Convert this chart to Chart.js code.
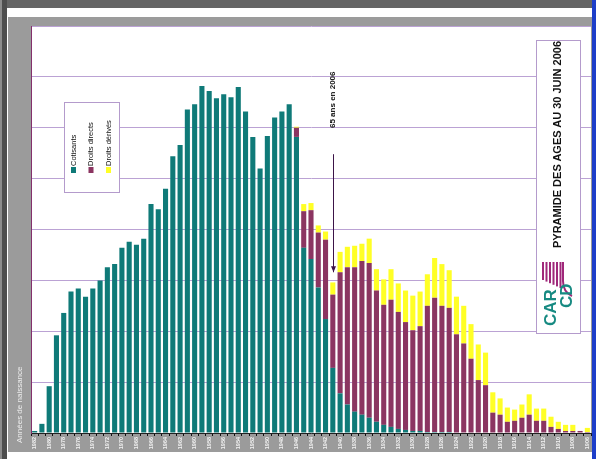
<!DOCTYPE html>
<html>
<head>
<meta charset="utf-8">
<script src="https://cdn.jsdelivr.net/npm/chart.js@4.4.1/dist/chart.umd.min.js"></script>
<style>
  body { margin: 0; width: 596px; height: 459px; position: relative; overflow: hidden; background: #fff; }
  canvas { position: absolute; left: 0; top: 0; }
  .vtxt { position: absolute; white-space: nowrap; transform-origin: 0 0; transform: rotate(-90deg); font-family: "Liberation Sans", Arial, sans-serif; }
</style>
</head>
<body>
<canvas id="pyramide" width="596" height="459"></canvas>
<script>
// Birth years, oldest on the right
const years = [1982, 1981, 1980, 1979, 1978, 1977, 1976, 1975, 1974, 1973,
    1972, 1971, 1970, 1969, 1968, 1967, 1966, 1965, 1964, 1963,
    1962, 1961, 1960, 1959, 1958, 1957, 1956, 1955, 1954, 1953,
    1952, 1951, 1950, 1949, 1948, 1947, 1946, 1945, 1944, 1943,
    1942, 1941, 1940, 1939, 1938, 1937, 1936, 1935, 1934, 1933,
    1932, 1931, 1930, 1929, 1928, 1927, 1926, 1925, 1924, 1923,
    1922, 1921, 1920, 1919, 1918, 1917, 1916, 1915, 1914, 1913,
    1912, 1911, 1910, 1909, 1908, 1907, 1906];

const cotisants = [2, 9, 46, 96, 118, 139, 142, 134, 142, 150,
    163, 166, 182, 188, 185, 191, 225, 220, 240, 272,
    283, 318, 323, 341, 336, 329, 333, 330, 340, 316,
    291, 260, 292, 310, 316, 323, 291, 182, 171, 143,
    112, 64, 39, 28, 21, 18, 15, 11, 8, 6,
    4, 3, 2, 2, 1, 1, 1, 1, 0, 0,
    0, 0, 0, 0, 0, 0, 0, 0, 0, 0,
    0, 0, 0, 0, 0, 0, 0];

const droitsDirects = [0, 0, 0, 0, 0, 0, 0, 0, 0, 0,
    0, 0, 0, 0, 0, 0, 0, 0, 0, 0,
    0, 0, 0, 0, 0, 0, 0, 0, 0, 0,
    0, 0, 0, 0, 0, 0, 9, 36, 48, 54,
    78, 72, 119, 135, 142, 151, 152, 129, 118, 125,
    115, 106, 99, 103, 124, 132, 124, 122, 97, 88,
    73, 52, 47, 20, 18, 11, 12, 15, 18, 12,
    12, 6, 4, 2, 2, 2, 1];

const droitsDerives = [0, 0, 0, 0, 0, 0, 0, 0, 0, 0,
    0, 0, 0, 0, 0, 0, 0, 0, 0, 0,
    0, 0, 0, 0, 0, 0, 0, 0, 0, 0,
    0, 0, 0, 0, 0, 0, 1, 7, 7, 7,
    8, 12, 20, 20, 21, 17, 24, 21, 25, 30,
    28, 31, 34, 34, 31, 39, 41, 37, 37, 37,
    34, 35, 32, 20, 16, 14, 11, 13, 20, 12,
    12, 10, 7, 6, 6, 0, 4];

const seriesNames = ['Cotisants', 'Droits directs', 'Droits dérivés'];
const seriesColors = ['#0f7a78', '#8b3561', '#ffff26'];
const markerYear = 1941;

// rotated text, reading bottom to top, bottom end at (cx, bottomY)
const vtext = (text, cx, bottomY, size, weight, color) => {
    const d = document.createElement('div');
    d.className = 'vtxt';
    d.textContent = text;
    d.style.left = (cx - size / 2) + 'px';
    d.style.top = bottomY + 'px';
    d.style.fontSize = size + 'px';
    d.style.lineHeight = size + 'px';
    d.style.fontWeight = weight;
    d.style.color = color;
    document.body.appendChild(d);
    return d;
};

// gray frame around the plot
const framePlugin = {
    id: 'frame',
    beforeDraw(chart) {
        const { ctx, chartArea: a } = chart;
        ctx.save();
        ctx.fillStyle = '#fff';
        ctx.fillRect(0, 0, 596, 459);
        ctx.fillStyle = '#9b9b9b';
        ctx.fillRect(8, 17, 584, 435);
        ctx.fillStyle = '#fff';
        ctx.fillRect(a.left, a.top, a.right - a.left, a.bottom - a.top);
        ctx.fillStyle = '#656565';
        ctx.fillRect(0, 0, 592, 8);
        ctx.fillStyle = '#4e4e4e';
        ctx.fillRect(2, 0, 5, 459);
        ctx.fillStyle = '#8c8c8c';
        ctx.fillRect(0, 0, 2, 459);
        ctx.fillStyle = '#1d3ec9';
        ctx.fillRect(592, 0, 4, 459);
        ctx.restore();
    }
};

// legend box, title box, logo stripes, arrow
const extrasPlugin = {
    id: 'extras',
    afterDraw(chart) {
        const { ctx } = chart;
        const x = chart.scales.x, y = chart.scales.y;
        ctx.save();
        ctx.strokeStyle = '#b49bcc';
        ctx.lineWidth = 1;
        ctx.fillStyle = '#fff';
        ctx.fillRect(64, 102, 55, 90);
        ctx.strokeRect(64.5, 102.5, 55, 90);
        ctx.fillRect(536, 40, 44, 293);
        ctx.strokeRect(536.5, 40.5, 44, 293);

        // legend squares
        [71, 88.5, 106].forEach((lx, i) => {
            ctx.fillStyle = seriesColors[i];
            ctx.fillRect(lx, 167, 5, 6);
        });

        // logo stripes
        ctx.fillStyle = '#a0287a';
        [542, 545.5, 549, 552.5, 556, 559.5].forEach((sx, i) => {
            ctx.fillRect(sx, 262, 2, 18 + i * 1.6);
        });
        ctx.strokeStyle = '#a0287a';
        ctx.lineWidth = 2;
        ctx.beginPath();
        ctx.moveTo(563, 262);
        ctx.lineTo(563, 281);
        ctx.quadraticCurveTo(563, 292, 572, 296);
        ctx.stroke();

        // arrow to the 65 years cohort
        const ax = Math.round(x.getPixelForValue(years.indexOf(markerYear))) + 0.5;
        const top = y.getPixelForValue(274), tip = y.getPixelForValue(158);
        ctx.strokeStyle = '#3c1448';
        ctx.lineWidth = 1;
        ctx.beginPath();
        ctx.moveTo(ax, top);
        ctx.lineTo(ax, tip);
        ctx.stroke();
        ctx.fillStyle = '#3c1448';
        ctx.beginPath();
        ctx.moveTo(ax - 2.5, tip - 6);
        ctx.lineTo(ax + 2.5, tip - 6);
        ctx.lineTo(ax, tip);
        ctx.closePath();
        ctx.fill();
        ctx.restore();
    }
};

const chart = new Chart(document.getElementById('pyramide'), {
    type: 'bar',
    data: {
        labels: years,
        datasets: [cotisants, droitsDirects, droitsDerives].map((data, i) => ({
            label: seriesNames[i],
            data: data,
            backgroundColor: seriesColors[i],
            borderWidth: 0,
            barPercentage: 0.7,
            categoryPercentage: 1.0
        }))
    },
    options: {
        responsive: false,
        animation: false,
        layout: { padding: { top: 26, right: 5, left: 0, bottom: 0 } },
        plugins: {
            legend: { display: false },
            tooltip: { enabled: false }
        },
        scales: {
            x: {
                stacked: true,
                grid: { offset: true, drawOnChartArea: false, drawTicks: true, tickLength: 3, color: '#111' },
                border: { color: '#222' },
                ticks: {
                    autoSkip: false,
                    minRotation: 90,
                    maxRotation: 90,
                    padding: 1,
                    color: '#f2f2f2',
                    font: { family: 'Liberation Sans', size: 5.5, weight: 'bold' },
                    callback: (val, i) => (i % 2 === 0 ? String(years[i]) : '')
                },
                afterFit: scale => { scale.height = 26; }
            },
            y: {
                stacked: true,
                min: 0,
                max: 400,
                ticks: { display: false, stepSize: 50 },
                grid: { color: '#bba2d4', drawTicks: false },
                border: { color: '#84306c' },
                afterFit: scale => { scale.width = 31; }
            }
        }
    },
    plugins: [framePlugin, extrasPlugin]
});

// texts
const ax = chart.scales.x.getPixelForValue(years.indexOf(markerYear));
vtext('65 ans en 2006', ax, 128, 8, 'bold', '#111');
vtext('Années de naissance', 20, 443, 8, 'normal', '#ececec');
vtext(seriesNames[0], 73.5, 166, 7.5, 'normal', '#111');
vtext(seriesNames[1], 91, 166, 7.5, 'normal', '#111');
vtext(seriesNames[2], 108.5, 166, 7.5, 'normal', '#111');
vtext('PYRAMIDE DES AGES AU 30 JUIN 2006', 557, 248, 11, 'bold', '#111');
vtext('CAR', 550, 326, 17, 'bold', '#178a82');
vtext('CD', 566, 308, 17, 'bold', '#178a82');
</script>
</body>
</html>
